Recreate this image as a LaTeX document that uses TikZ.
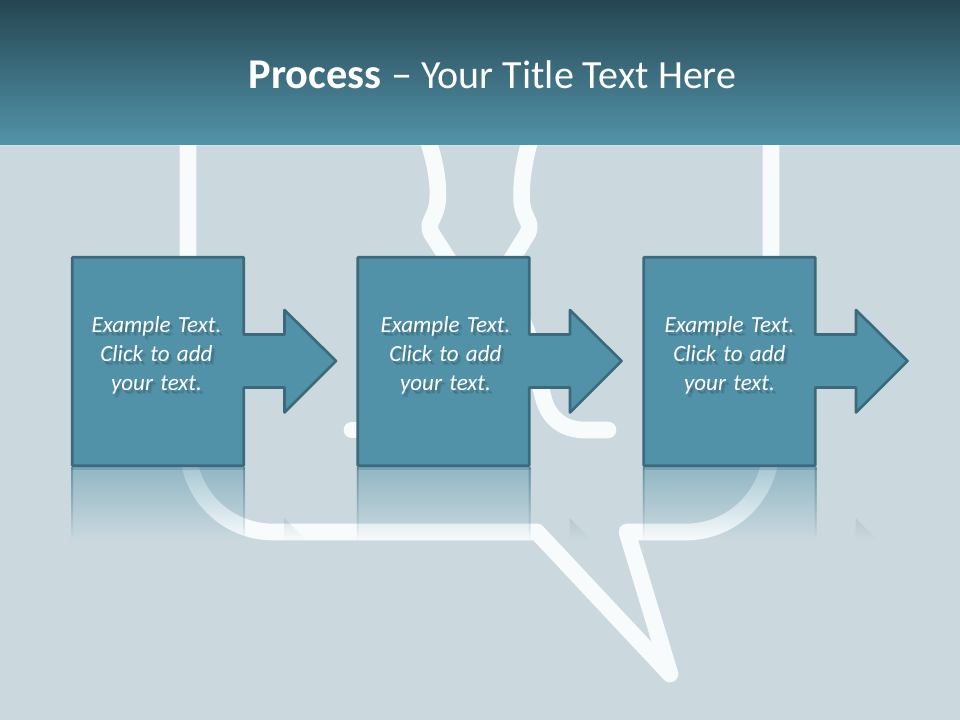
\documentclass[tikz,border=0pt]{standalone}
\usepackage{fontspec}
\setmainfont{Carlito}
\newfontfamily\blockfont[WordSpace=1.4]{Carlito}
\usetikzlibrary{fadings}

\definecolor{pagebg}{RGB}{203,217,223}
\definecolor{headtop}{RGB}{37,70,82}
\definecolor{headbot}{RGB}{83,148,170}
\definecolor{blockfill}{RGB}{82,146,168}
\definecolor{blockline}{RGB}{59,106,125}
\definecolor{bubble}{RGB}{247,251,252}

\tikzfading[name=fadeblock,top color=transparent!52,bottom color=transparent!100]
\tikzfading[name=fadeedge,top color=transparent!55,bottom color=transparent!100]

\tikzset{
    bubbleline/.style={draw=bubble,line width=12.5pt,line join=round,line cap=round},
    blocktext/.style={align=center,inner sep=0,font=\blockfont\fontsize{17.3}{21.75}\selectfont\itshape},
}

\begin{document}
\begin{tikzpicture}[x=0.75pt,y=-0.75pt]
    \useasboundingbox (0,0) rectangle (960,720);
    \fill[pagebg] (0,0) rectangle (960,720);
    % speech bubble
    \draw[bubbleline] (188,140) -- (188,447) .. controls (188,494) and (226,532) .. (273,532)
        -- (537,532) -- (670,674) -- (627,532) -- (686,532)
        .. controls (733,532) and (771,494) .. (771,447) -- (771,140);
    % person
    \draw[bubbleline,rounded corners=5pt] (428,140) .. controls (436,165) and (439,185) .. (437,208) -- (428,228) -- (455,270);
    \draw[bubbleline,rounded corners=5pt] (530,140) .. controls (523,165) and (521,185) .. (522,208) -- (531,228) -- (505,270);
    \draw[bubbleline] (352,430) -- (370,430);
    \draw[bubbleline] (522,320) .. controls (534,345) and (537,375) .. (542,392)
        .. controls (547,420) and (565,430) .. (585,430) -- (608,430);
    % blocks
    \foreach \i/\dx/\tx in {1/0/156.5,2/285.5/445.5,3/571.5/729.5}{
        \begin{scope}[xshift=\dx*0.75pt]
            \fill[blockfill,path fading=fadeblock] (71,467) rectangle (245,540);
            \begin{scope}
                \clip (71,467) rectangle (73,540) (243,467) rectangle (245,540)
                    (284,518) -- (306,540) -- (284,540) -- cycle;
                \fill[blockline,path fading=fadeedge] (60,467) rectangle (310,540);
            \end{scope}
            \fill[blockline,opacity=0.25] (71,467) rectangle (245,470);
            \filldraw[fill=blockfill,draw=blockline,line width=2pt,line join=round]
                (72.3,257.3) -- (243.7,257.3) -- (243.7,334.5) -- (284.5,334.5) -- (284.5,310) -- (336,361)
                -- (284.5,412.5) -- (284.5,387.5) -- (243.7,387.5) -- (243.7,465.7) -- (72.3,465.7) -- cycle;
        \end{scope}
        \node[blocktext,text=blockline!70!black,opacity=0.2] (shadowb\i) at (\tx+3.5,359.5) {Example Text.\\Click to add\\your text.};
        \node[blocktext,text=blockline!70!black,opacity=0.3] (shadowa\i) at (\tx+2,358) {Example Text.\\Click to add\\your text.};
        \node[blocktext,text=white] (text\i) at (\tx,355.5) {Example Text.\\Click to add\\your text.};
    }
    % title bar
    \shade[top color=headtop,bottom color=headbot] (0,0) rectangle (960,145);
    \fill[bubble,opacity=0.25] (0,145) rectangle (960,146.5);
    \node[text=white,inner sep=0,font=\fontsize{30}{36}\selectfont] (title) at (492.5,75) {{\fontsize{31.8}{36}\selectfont\textbf{Process} --} Your Title Text Here};
\end{tikzpicture}
\end{document}
